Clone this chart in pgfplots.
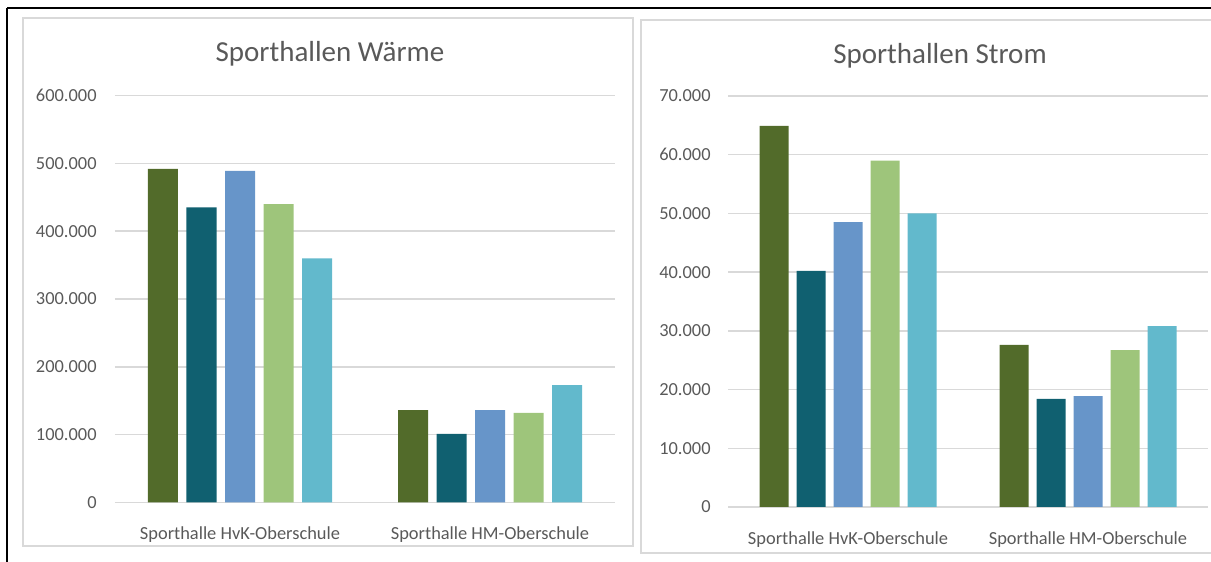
\documentclass[border=0pt]{standalone}
\usepackage{fontspec}
\setmainfont{Carlito}
\usepackage{pgfplots}
\pgfplotsset{compat=1.18}

\definecolor{cDarkGreen}{RGB}{82,107,42}
\definecolor{cTeal}{RGB}{16,96,112}
\definecolor{cBlue}{RGB}{103,149,201}
\definecolor{cLightGreen}{RGB}{158,197,123}
\definecolor{cCyan}{RGB}{98,185,204}
\definecolor{cText}{RGB}{89,89,89}
\definecolor{cGrid}{RGB}{217,217,217}

\pgfplotsset{
  panelaxis/.style={
    scale only axis,
    anchor=south west,
    axis line style={draw=none},
    tick style={draw=none},
    ymajorgrids,
    major grid style={draw=cGrid, line width=0.7pt},
    xmin=-0.5, xmax=1.5,
    enlarge x limits=false,
    ymin=0,
    scaled y ticks=false,
    xtick={0,1},
    xticklabels={Sporthalle HvK-Oberschule, Sporthalle HM-Oberschule},
    ticklabel style={font=\fontsize{9.2}{11}\selectfont, text=cText},
    yticklabel style={anchor=east, inner sep=0pt},
    xticklabel style={anchor=north, inner sep=0pt},
    every axis plot/.append style={draw=none},
  }
}

\begin{document}
\begin{tikzpicture}
\useasboundingbox (0,0) rectangle (605.5pt,281pt);

% frames and titles, laid out in half-point units from the top left
\begin{scope}[x=0.5pt, y=-0.5pt, shift={(0,281pt)}]
  \draw[black, line width=1.1pt] (7,8) -- (1240,8);
  \draw[black, line width=1.1pt] (7,8) -- (7,600);
  \draw[cGrid, line width=0.8pt] (23,18) rectangle (633,546);
  \draw[cGrid, line width=0.8pt] (641,20) rectangle (1250,553);
  \node[text=cText, font=\fontsize{14.5}{17}\selectfont] at (330,54) {Sporthallen Wärme};
  \node[text=cText, font=\fontsize{14.5}{17}\selectfont] at (940,56) {Sporthallen Strom};
\end{scope}

% heat
\begin{axis}[panelaxis,
  at={(57.5pt,29.75pt)},
  width=250pt, height=203.5pt,
  ymax=600000,
  ytick={0,100000,200000,300000,400000,500000,600000},
  yticklabels={0,100.000,200.000,300.000,400.000,500.000,600.000},
  yticklabel style={xshift=-9pt},
  xticklabel style={yshift=-7.5pt},
  ybar=4.25pt, bar width=15pt,
]
\addplot[fill=cDarkGreen]  coordinates {(0,492000) (1,136000)};
\addplot[fill=cTeal]       coordinates {(0,435000) (1,101000)};
\addplot[fill=cBlue]       coordinates {(0,489000) (1,136000)};
\addplot[fill=cLightGreen] coordinates {(0,440000) (1,132000)};
\addplot[fill=cCyan]       coordinates {(0,360000) (1,173000)};
\end{axis}

% electricity
\begin{axis}[panelaxis,
  at={(364pt,27.5pt)},
  width=240pt, height=205.5pt,
  ymax=70000,
  ytick={0,10000,20000,30000,40000,50000,60000,70000},
  yticklabels={0,10.000,20.000,30.000,40.000,50.000,60.000,70.000},
  yticklabel style={xshift=-8.5pt},
  xticklabel style={yshift=-8pt},
  ybar=4pt, bar width=14.5pt,
]
\addplot[fill=cDarkGreen]  coordinates {(0,64900) (1,27600)};
\addplot[fill=cTeal]       coordinates {(0,40200) (1,18400)};
\addplot[fill=cBlue]       coordinates {(0,48500) (1,18900)};
\addplot[fill=cLightGreen] coordinates {(0,59000) (1,26700)};
\addplot[fill=cCyan]       coordinates {(0,50000) (1,30800)};
\end{axis}
\end{tikzpicture}
\end{document}
